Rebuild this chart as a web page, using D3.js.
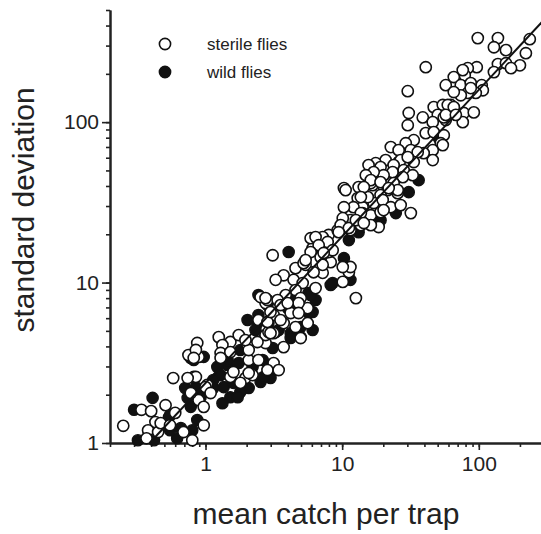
<!DOCTYPE html>
<html>
<head>
<meta charset="utf-8">
<script src="https://cdn.jsdelivr.net/npm/d3@7"></script>
<style>
  body { margin: 0; background: #fff; }
  svg { display: block; font-family: "Liberation Sans", Arial, sans-serif; }
</style>
</head>
<body>
<svg width="541" height="534"></svg>
<script>
// mean catch per trap vs standard deviation, sterile flies (open) and wild flies (filled)
const sterile = [
  [0.25,1.28],[0.34,1.61],[0.40,1.58],[0.51,1.72],[0.60,1.54],[0.69,1.17],[0.58,2.54],[0.82,2.58],[0.89,1.85],
  [0.89,3.44],[0.75,3.53],[0.87,4.20],[0.85,3.80],[0.82,3.39],[0.43,1.35],[0.38,1.20],[0.45,1.17],[0.47,1.33],
  [0.55,1.29],[0.80,1.04],[0.97,1.29],[1.03,2.30],[0.85,2.58],[0.74,2.54],[0.78,2.05],[0.97,1.68],[0.37,1.07],
  [1.25,4.57],[1.52,4.26],[1.75,4.71],[1.33,4.08],[1.29,3.64],[1.29,3.39],[1.52,3.69],[2.03,4.08],[2.07,3.29],
  [2.75,4.20],[2.75,4.71],[3.15,4.84],[2.89,4.92],[3.15,6.28],[2.75,7.45],[2.44,5.84],[3.15,3.15],[1.52,2.58],
  [1.00,2.23],[1.96,2.54],[2.21,2.65],[1.09,2.05],[1.60,2.77],[1.80,2.37],[2.07,2.73],[2.07,3.80],[2.40,4.26],
  [2.44,3.29],[2.84,2.85],[2.84,5.68],[2.53,8.12],[2.84,7.78],[1.96,4.38],[3.43,2.85],[2.99,6.55],
  [3.10,14.8],[4.56,12.3],[5.40,12.9],[3.73,11.1],[3.26,10.4],[4.41,10.4],[5.14,9.93],[7.20,11.5],[8.24,13.4],
  [6.96,16.6],[7.96,15.5],[6.39,9.24],[4.56,8.98],[3.86,8.36],[3.37,7.78],[2.75,8.00],[3.54,7.24],[4.97,8.00],
  [5.59,6.93],[3.73,5.59],[5.59,5.59],[2.99,4.84],[4.97,4.51],[6.18,11.6],[10.1,10.1],[11.2,11.6],[4.80,7.45],
  [4.20,6.46],[4.80,6.46],[3.54,5.84],[4.56,5.28],[3.73,3.96],[3.99,7.45],[12.6,8.00],[6.96,14.4],[6.08,16.4],
  [5.22,13.2],[11.5,12.5],[10.1,12.5],[5.88,18.9],[6.96,18.4],[7.96,19.8],[9.27,21.2],[11.5,21.2],
  [10.3,38.8],[13.2,39.4],[16.7,40.5],[19.8,40.5],[16.2,45.4],[18.5,48.1],[21.5,45.4],[21.5,37.7],[19.1,35.1],
  [13.0,33.6],[14.1,29.5],[12.1,29.5],[10.3,29.5],[14.1,27.1],[16.2,26.3],[19.1,27.5],[18.5,22.2],[16.2,22.8],
  [13.7,22.8],[11.5,24.5],[10.1,25.2],[9.75,22.8],[11.2,21.9],[9.43,20.6],[7.20,19.2],[6.39,19.2],[7.83,17.9],
  [6.73,17.1],[8.52,15.9],[7.32,15.3],[5.88,15.5],[5.40,13.8],[7.20,12.9],
  [17.0,31.3],[19.8,32.7],[22.7,29.5],[26.8,30.4],[31.8,27.1],[20.1,28.3],[13.7,27.1],[12.6,24.5],[14.4,23.5],
  [10.6,37.7],[15.4,34.1],[16.2,41.7],[21.9,42.3],[25.5,36.1],[25.9,56.4],[18.2,54.0],
  [30.7,114],[38.9,107],[46.8,124],[54.5,128],[62.4,128],[65.6,114],[57.3,103],[50.1,111],[46.0,100],
  [30.2,95.7],[40.9,85.4],[46.8,86.7],[55.4,82.9],[52.7,73.9],[46.0,66.9],[46.0,58.0],[39.5,64.1],[33.4,77.2],
  [29.2,73.9],[22.7,69.9],[25.9,66.9],[31.8,66.9],[35.7,65.0],[33.4,56.4],[26.8,58.0],[30.2,60.5],[20.8,58.0],
  [17.6,55.5],[15.6,54.0],[19.1,52.5],[23.8,54.0],[23.4,48.8],[28.2,50.2],[32.8,46.7],[27.8,45.4],[20.1,46.7],
  [17.0,48.8],[14.9,46.7],[16.2,43.5],[19.1,42.3],[23.8,41.7],[25.5,37.7],[21.9,38.8],[14.4,39.4],[13.7,34.1],
  [30.2,156],[40.9,220],[62.4,119],[55.4,107],[77.6,114],[91.9,115],[76.3,100],[54.5,71.9],
  [98.3,334],[138,334],[129,293],[158,281],[236,329],[221,269],[138,230],[158,233],[200,226],[172,217],
  [129,205],[96.6,220],[83.0,217],[78.9,196],[65.6,191],[57.3,170],[73.8,170],[87.3,175],[105,170],[107,158],
  [95.0,152],[83.0,152],[73.8,147],[65.6,154],[59.3,128],[65.6,124],[57.3,111],[67.9,111],[87.3,163],[76.3,211]
];

const wild = [
  [0.30,1.61],[0.41,1.91],[0.54,1.45],[0.32,1.04],[0.42,1.04],[0.62,1.07],[0.87,1.39],[0.80,1.20],[0.71,2.20],
  [0.80,2.08],[0.74,1.91],[0.78,1.68],[0.82,3.29],[0.66,1.24],[0.55,1.20],[0.55,1.49],[0.97,3.44],[0.78,3.39],
  [0.85,2.23],[0.92,1.93],
  [1.80,3.80],[1.75,3.15],[1.45,3.06],[1.22,2.98],[2.21,2.98],[2.62,4.38],[2.89,5.59],[2.62,3.29],[2.89,2.93],
  [1.29,2.65],[1.14,2.47],[1.14,2.20],[1.36,2.23],[1.60,2.37],[2.53,2.40],[2.07,2.20],[1.80,2.08],[2.99,2.54],
  [1.52,1.93],[1.33,1.77],[1.72,1.93],[2.66,2.58],[2.40,5.59],[1.45,3.29],[3.10,3.91],[3.26,4.92],
  [4.06,15.5],[5.68,8.60],[8.24,9.65],[2.44,8.36],[2.84,7.24],[4.20,7.78],[6.08,6.55],[6.39,7.78],[4.56,6.55],
  [3.99,6.93],[2.44,6.28],[2.03,5.84],[4.97,5.28],[6.08,5.06],[3.43,5.06],[4.20,4.84],[2.32,5.06],[8.52,9.93],
  [11.5,10.4],[5.88,8.36],[5.68,6.46],[4.97,4.57],[4.20,4.51],[11.2,18.4],[10.3,14.2],
  [17.0,23.8],[19.1,24.5],[13.2,20.6],[15.4,23.5],
  [50.9,79.5],[36.3,43.5],[30.7,36.6],[24.7,27.1]
];

// fitted power-law line (end points)
const fitLine = [[0.39, 1.0], [300, 434]];

const xTickLabels = [1, 10, 100];
const yTickLabels = [1, 10, 100];
const legendItems = [
  {label: "sterile flies", fill: "#fff"},
  {label: "wild flies", fill: "#111"}
];

const svg = d3.select("svg");
const ink = "#222";

const x = d3.scaleLog().domain([0.2, 300]).range([110, 544]);
const y = d3.scaleLog().domain([1, 500]).range([443, 10]);

// minor ticks: 2..9 of each decade inside the domains
function minors(scale) {
  const [lo, hi] = scale.domain();
  const out = [];
  for (let p = -1; p <= 3; p++) {
    for (let k = 1; k <= 9; k++) {
      const v = k * Math.pow(10, p);
      if (v >= lo * 0.999 && v <= hi * 1.001) out.push(v);
    }
  }
  return out;
}

// x axis
const xMinor = svg.append("g")
  .attr("transform", "translate(0,443)")
  .call(d3.axisBottom(x).tickValues(minors(x)).tickSize(4).tickSizeOuter(0).tickFormat(""));
const xMajor = svg.append("g")
  .attr("transform", "translate(0,443)")
  .call(d3.axisBottom(x).tickValues(xTickLabels).tickSize(7).tickSizeOuter(0).tickPadding(6).tickFormat(d3.format("d")));

// y axis
const yMinor = svg.append("g")
  .attr("transform", "translate(110,0)")
  .call(d3.axisLeft(y).tickValues(minors(y)).tickSize(4).tickSizeOuter(0).tickFormat(""));
const yMajor = svg.append("g")
  .attr("transform", "translate(110,0)")
  .call(d3.axisLeft(y).tickValues(yTickLabels).tickSize(8).tickSizeOuter(0).tickPadding(3).tickFormat(d3.format("d")));

[xMinor, xMajor, yMinor, yMajor].forEach(a => {
  a.select(".domain").attr("stroke", ink).attr("stroke-width", 2);
  a.selectAll(".tick line").attr("stroke", ink).attr("stroke-width", 1.6);
  a.selectAll(".tick text").attr("fill", ink).style("font-size", "21px");
});

// points
svg.append("g").selectAll("circle")
  .data(wild)
  .join("circle")
  .attr("cx", d => x(d[0]))
  .attr("cy", d => y(d[1]))
  .attr("r", 5.6)
  .attr("fill", "#111")
  .attr("stroke", "#111")
  .attr("stroke-width", 1.4);

svg.append("g").selectAll("circle")
  .data(sterile)
  .join("circle")
  .attr("cx", d => x(d[0]))
  .attr("cy", d => y(d[1]))
  .attr("r", 5.6)
  .attr("fill", "#fff")
  .attr("stroke", "#111")
  .attr("stroke-width", 1.6);

svg.append("path")
  .datum(fitLine)
  .attr("fill", "none")
  .attr("stroke", "#111")
  .attr("stroke-width", 2)
  .attr("d", d3.line().x(d => x(d[0])).y(d => y(d[1])));

// legend
const legend = svg.append("g").attr("transform", "translate(165,44)");
legendItems.forEach((item, i) => {
  const row = legend.append("g").attr("transform", `translate(0,${i * 28})`);
  row.append("circle").attr("r", 5.6).attr("fill", item.fill)
    .attr("stroke", "#111").attr("stroke-width", 1.6);
  row.append("text").attr("x", 42).attr("y", 6)
    .attr("fill", ink).style("font-size", "17px")
    .text(item.label);
});

// axis titles
svg.append("text")
  .attr("x", 326).attr("y", 524)
  .attr("text-anchor", "middle")
  .attr("fill", ink).style("font-size", "30px")
  .text("mean catch per trap");

svg.append("text")
  .attr("transform", "translate(34,210) rotate(-90)")
  .attr("text-anchor", "middle")
  .attr("fill", ink).style("font-size", "30px")
  .text("standard deviation");
</script>
</body>
</html>
